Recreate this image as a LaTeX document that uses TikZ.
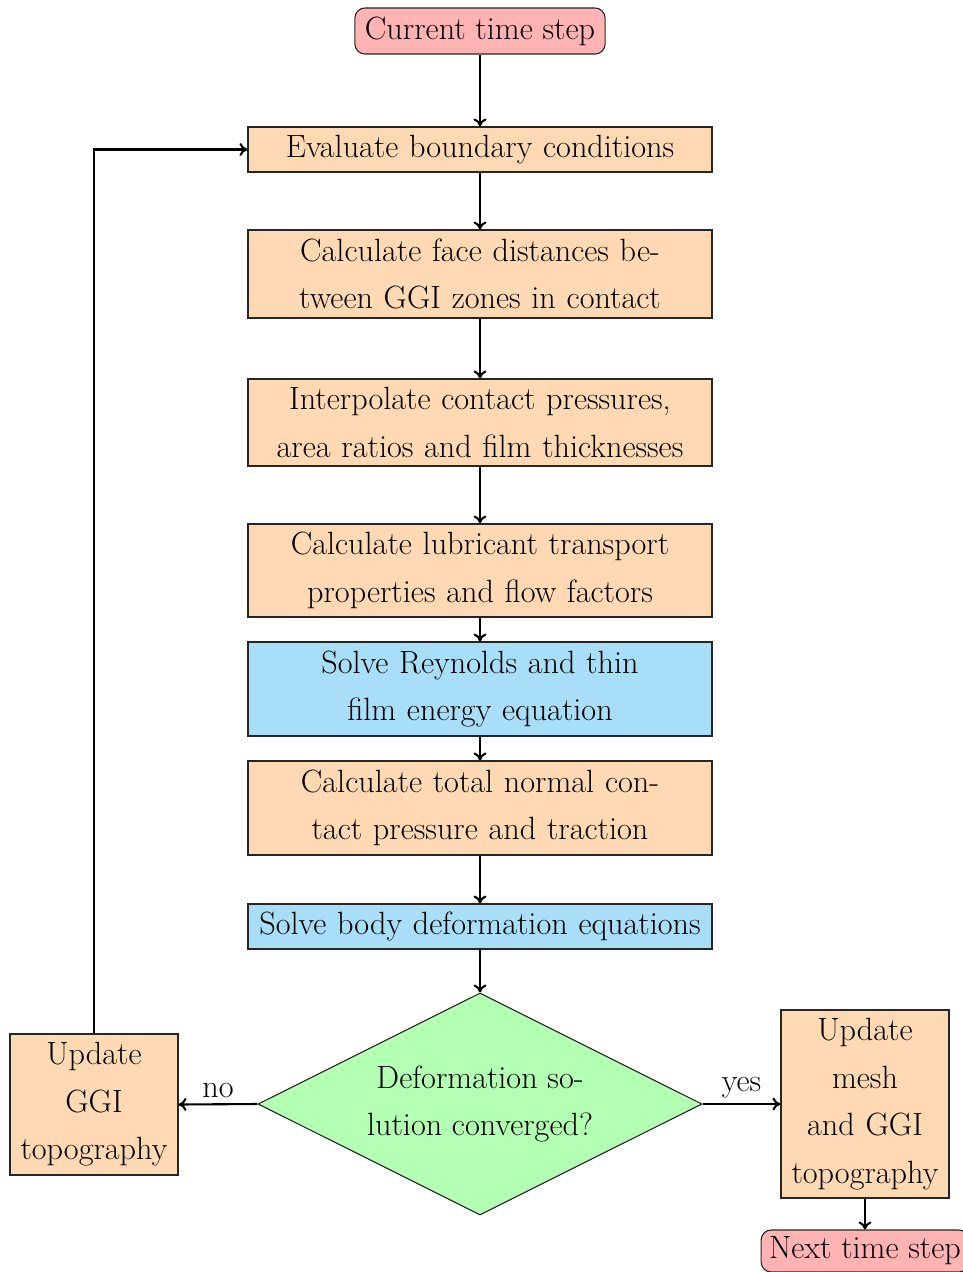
\documentclass[tikz,border=0pt]{standalone}
\usepackage{fontspec}
\usetikzlibrary{shapes.geometric,arrows.meta}
\definecolor{boxorange}{RGB}{255,217,179}
\definecolor{boxblue}{RGB}{169,222,249}
\definecolor{boxred}{RGB}{255,179,179}
\definecolor{boxgreen}{RGB}{179,255,179}
\tikzset{
  base/.style={draw=black!85, line width=1.1pt, inner sep=2pt, align=center,
    font=\fontsize{32.2}{47.5}\selectfont},
  procbox/.style={base, rectangle, fill=boxorange, minimum width=464pt, text width=455pt},
  solvebox/.style={base, rectangle, fill=boxblue, minimum width=464pt, text width=455pt},
  termbox/.style={base, rectangle, rounded corners=10pt, fill=boxred, minimum height=46pt, inner xsep=10pt},
  sidebox/.style={base, rectangle, fill=boxorange, minimum width=168pt, text width=164pt},
  decision/.style={base, diamond, fill=boxgreen, minimum width=444pt, minimum height=222pt, aspect=2, inner sep=0pt},
  flow/.style={-{To[length=8pt,width=13pt]}, line width=2.1pt},
  lbl/.style={font=\fontsize{32.2}{47.5}\selectfont}
}
\begin{document}
\begin{tikzpicture}[x=1pt,y=-1pt]
\useasboundingbox (0,0) rectangle (963,1272);
\node[termbox] (cur) at (480,31) {Current time step};
\node[procbox, minimum height=45pt] (eval) at (480,149.5) {Evaluate boundary conditions};
\node[procbox, minimum height=88pt] (face) at (480,274) {Calculate face distances be-\\tween GGI zones in contact};
\node[procbox, minimum height=87pt] (interp) at (480,422.5) {Interpolate contact pressures,\\area ratios and film thicknesses};
\node[procbox, minimum height=93pt] (lub) at (480,570.5) {Calculate lubricant transport\\properties and flow factors};
\node[solvebox, minimum height=94pt] (rey) at (480,689) {Solve Reynolds and thin\\film energy equation};
\node[procbox, minimum height=94pt] (trac) at (480,808) {Calculate total normal con-\\tact pressure and traction};
\node[solvebox, minimum height=45pt] (body) at (480,926.5) {Solve body deformation equations};
\node[decision] (conv) at (480,1104) {Deformation so-\\lution converged?};
\node[sidebox, minimum height=141pt] (ggi) at (94,1104.5) {Update\\GGI\\topography};
\node[sidebox, minimum height=188pt] (mesh) at (865,1104) {Update\\mesh\\and GGI\\topography};
\node[termbox, minimum height=42pt, inner xsep=8pt] (next) at (865,1251) {Next time step};

\draw[flow] (cur) -- (eval);
\draw[flow] (eval) -- (face);
\draw[flow] (face) -- (interp);
\draw[flow] (interp) -- (lub);
\draw[flow] (lub) -- (rey);
\draw[flow] (rey) -- (trac);
\draw[flow] (trac) -- (body);
\draw[flow] (body) -- (conv);
\draw[flow] (conv.west) -- node[lbl, above, yshift=2pt] {no} (ggi.east);
\draw[flow] (conv.east) -- node[lbl, above, yshift=2pt] {yes} (mesh.west);
\draw[flow] (mesh) -- (next);
\draw[flow] (ggi.north) |- (eval.west);
\end{tikzpicture}
\end{document}
